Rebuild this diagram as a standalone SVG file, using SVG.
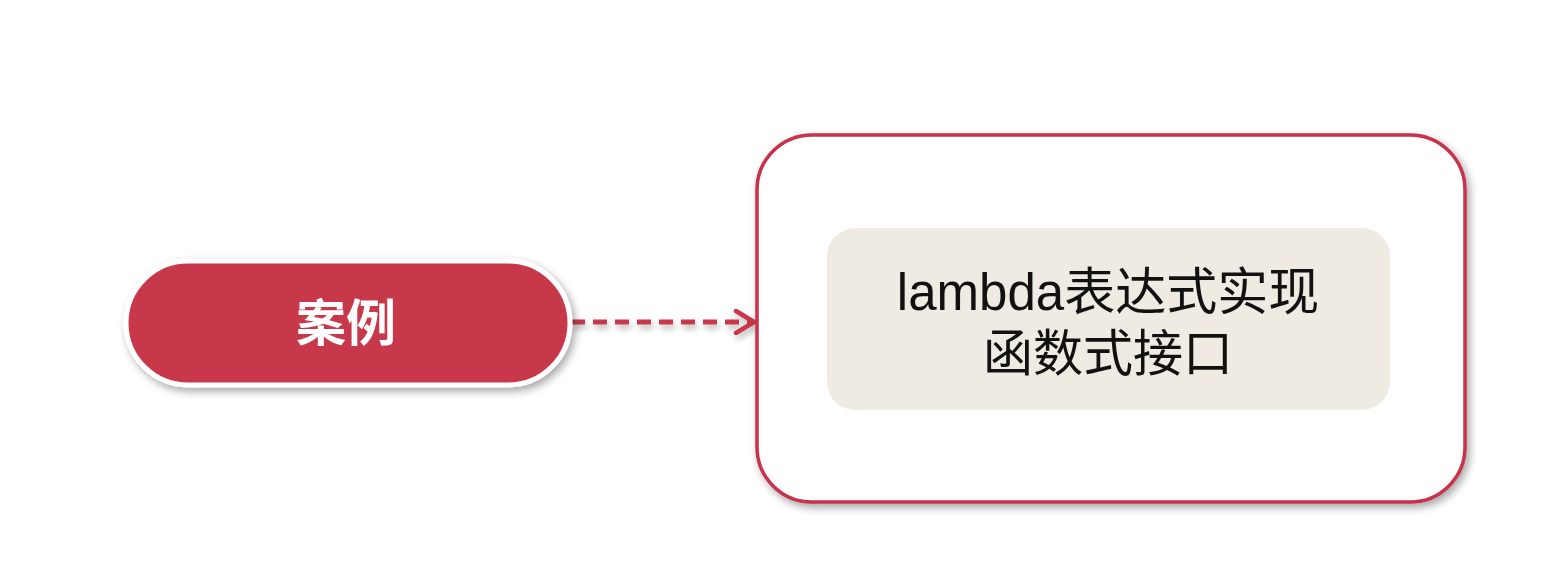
<svg xmlns="http://www.w3.org/2000/svg" width="1547" height="571" viewBox="0 0 1547 571">
<style>
.cjk{font-family:"Liberation Sans","Noto Sans CJK SC",sans-serif}
</style>
<defs>
<filter id="sh" x="-10%" y="-10%" width="130%" height="130%">
<feGaussianBlur in="SourceAlpha" stdDeviation="4"/>
<feOffset dx="3" dy="4"/>
<feComponentTransfer><feFuncA type="linear" slope="0.35"/></feComponentTransfer>
<feMerge><feMergeNode/><feMergeNode in="SourceGraphic"/></feMerge>
</filter>
<filter id="shl" filterUnits="userSpaceOnUse" x="550" y="290" width="230" height="70">
<feGaussianBlur in="SourceAlpha" stdDeviation="3"/>
<feOffset dx="2" dy="4"/>
<feComponentTransfer><feFuncA type="linear" slope="0.3"/></feComponentTransfer>
<feMerge><feMergeNode/><feMergeNode in="SourceGraphic"/></feMerge>
</filter>
<marker id="arr" markerWidth="26" markerHeight="26" refX="21" refY="13" orient="auto" markerUnits="userSpaceOnUse">
<path d="M3,2 L21,13 L3,24" fill="none" stroke="#C8374B" stroke-width="4.5" stroke-linecap="round" stroke-linejoin="round"/>
</marker>
</defs>
<rect width="1547" height="571" fill="#ffffff"/>
<g id="connectors" filter="url(#shl)">
<line x1="571" y1="322" x2="754" y2="322" stroke="#C8374B" stroke-width="5" stroke-dasharray="14,8" marker-end="url(#arr)"/>
</g>
<g id="node-case" filter="url(#sh)">
<rect x="126" y="261" width="444" height="124" rx="62" fill="#C8374B" stroke="#ffffff" stroke-width="5"/>
<text class="cjk" x="346" y="341" font-size="50" font-weight="bold" fill="#ffffff" text-anchor="middle">案例</text>
</g>
<g id="node-lambda">
<rect x="757" y="135" width="708" height="367" rx="55" fill="#ffffff" stroke="#C8304B" stroke-width="3.5" filter="url(#sh)"/>
<rect x="827" y="228" width="563" height="182" rx="28" fill="#EFEBE2"/>
<text class="cjk" x="1108" y="310" font-size="51" fill="#111111" text-anchor="middle">lambda表达式实现</text>
<text class="cjk" x="1108" y="371" font-size="50" fill="#111111" text-anchor="middle">函数式接口</text>
</g>
</svg>
